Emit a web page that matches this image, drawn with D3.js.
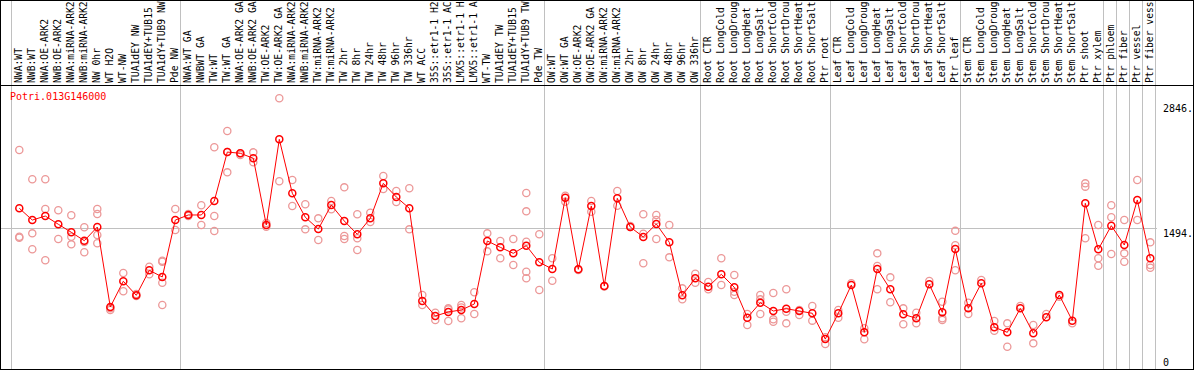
<!DOCTYPE html>
<html>
<head>
<meta charset="utf-8">
<script src="https://cdn.jsdelivr.net/npm/d3@7"></script>
<style>
  body { margin: 0; background: #fff; }
  svg { display: block; font-family: "DejaVu Sans Mono", monospace; }
</style>
</head>
<body>
<div id="vis"></div>
<script>
// frame
const FRAME_WIDTH = 1194;
const FRAME_HEIGHT = 370;
const HEADER = 85;

const GENE = "Potri.013G146000";

// sample names as shown in the column header (long ones are cut like the original)
const samples = [
  "NWA:WT", "NWB:WT", "NWA:OE-ARK2", "NWB:OE-ARK2", "NWA:miRNA-ARK2", "NWB:miRNA-ARK2",
  "NW 0hr", "WT H2O", "WT-NW", "TUA1dEY NW", "TUA1dEY+TUB15", "TUA1dY+TUB9 NW", "Pde NW",
  "NWA:WT GA", "NWBWT GA", "TW:WT", "TW:WT GA", "NWA:OE-ARK2 GA", "NWB:OE-ARK2 GA",
  "TW:OE-ARK2", "TW:OE-ARK2 GA", "NWA:miRNA-ARK2", "NWB:miRNA-ARK2", "TW:miRNA-ARK2",
  "TW:miRNA-ARK2", "TW 2hr", "TW 8hr", "TW 24hr", "TW 48hr", "TW 96hr", "TW 336hr",
  "WT ACC", "35S::etr1-1 H2", "35S::etr1-1 AC", "LMX5::etr1-1 H", "LMX5::etr1-1 A",
  "WT-TW", "TUA1dEY TW", "TUA1dEY+TUB15", "TUA1dY+TUB9 TW", "Pde TW",
  "OW:WT", "OW:WT GA", "OW:OE-ARK2", "OW:OE-ARK2 GA", "OW:miRNA-ARK2", "OW:miRNA-ARK2",
  "OW 2hr", "OW 8hr", "OW 24hr", "OW 48hr", "OW 96hr", "OW 336hr",
  "Root CTR", "Root LongCold", "Root LongDroug", "Root LongHeat", "Root LongSalt",
  "Root ShortCold", "Root ShortDrou", "Root ShortHeat", "Root ShortSalt", "Ptr root",
  "Leaf CTR", "Leaf LongCold", "Leaf LongDroug", "Leaf LongHeat", "Leaf LongSalt",
  "Leaf ShortCold", "Leaf ShortDrou", "Leaf ShortHeat", "Leaf ShortSalt", "Ptr leaf",
  "Stem CTR", "Stem LongCold", "Stem LongDroug", "Stem LongHeat", "Stem LongSalt",
  "Stem ShortCold", "Stem ShortDrou", "Stem ShortHeat", "Stem ShortSalt", "Ptr shoot",
  "Ptr xylem", "Ptr phloem", "Ptr fiber", "Ptr vessel", "Ptr fiber vess"
];

// mean expression per sample
const means = [
  1696, 1573, 1615, 1529, 1445, 1357, 1500, 664, 933, 786, 1048, 978, 1573,
  1626, 1626, 1772, 2284, 2271, 2219, 1521, 2417, 1853, 1602, 1479, 1730,
  1563, 1424, 1591, 1957, 1814, 1696, 727, 570, 612, 633, 695, 1354, 1288,
  1225, 1305, 1131, 1061, 1807, 1058, 1720, 883, 1800, 1500, 1396, 1532,
  1340, 786, 964, 876, 1006, 870, 552, 709, 622, 646, 622, 598, 329,
  598, 894, 399, 1061, 849, 588, 546, 901, 608, 1270, 650, 912, 452,
  399, 650, 389, 556, 789, 521, 1748, 1267, 1514, 1312, 1783, 1173
];

// replicate values per sample
const replicates = [
  [2305, 1399, 1388], [1999, 1434, 1267], [1999, 1688, 1152], [1675, 1375],
  [1623, 1399, 1319], [1497, 1236, 1343], [1688, 1636, 1417, 1330], [650, 633],
  [1019, 828], [800, 779], [1085, 1006], [1148, 1137, 918, 685], [1688, 1469],
  [1636, 1616], [1727, 1521], [2334, 1615, 1458], [2504, 2284, 2072], [2271, 2253],
  [2281, 2177], [1503, 1542], [2846, 1978], [1992, 1720], [1738, 1476], [1591, 1364],
  [1772, 1685], [1915, 1406, 1375], [1633, 1382, 1260], [1650, 1553], [2033, 1898],
  [1877, 1762], [1905, 1476], [789, 685], [604, 528], [650, 518, 638], [685, 546, 660],
  [818, 591], [1434, 1246], [1354, 1173], [1375, 1103], [1856, 1664, 1347, 1033, 964],
  [1424, 842], [1173, 939], [1828, 1765], [1058, 1050], [1772, 1660], [883, 878],
  [1877, 1723], [1500, 1511], [1633, 1430, 1121], [1626, 1573, 1375], [1521, 1183],
  [859, 744], [1012, 918], [925, 849], [1173, 894], [998, 824, 789], [591, 475],
  [789, 744, 591], [810, 535, 510], [849, 615, 493], [633, 580], [674, 521], [347, 277],
  [633, 552], [912], [441, 326], [1225, 1093, 849], [974, 713], [650, 483], [604, 493],
  [936], [719, 546, 528], [1460, 1309, 1048], [709, 591], [946], [518, 416], [493, 249],
  [674], [476, 284], [591], [772], [493], [1957, 1922, 1382], [1521, 1173, 1096],
  [1727, 1602, 1218], [1573, 1225, 1137], [1992, 1573], [1340, 1103, 1075]
];

// y labels
const yTicks = [0, 1494, 2846];
const yTickLabels = ["0", "1494.", "2846."];

// columns after which a separator is drawn
const groupBreaks = [0, 13, 41, 53, 63, 73, 84, 85, 86, 87, 88];

const SVG = d3.select("#vis")
  .append("svg")
    .attr("width", FRAME_WIDTH)
    .attr("height", FRAME_HEIGHT);

// scales
const X_SCALE = d3.scaleBand()
  .domain(d3.range(samples.length))
  .range([11, 1155]);

const Y_SCALE = d3.scaleLinear()
  .domain([0, 2846])
  .range([370.5, 98.3]);

const px = (i) => X_SCALE(i) + 8.3;

// group separators
SVG.selectAll(".sep")
  .data(groupBreaks)
  .enter()
  .append("line")
    .attr("x1", (d) => Math.round(X_SCALE(0) + d * X_SCALE.bandwidth()) + 0.5)
    .attr("x2", (d) => Math.round(X_SCALE(0) + d * X_SCALE.bandwidth()) + 0.5)
    .attr("y1", 0)
    .attr("y2", FRAME_HEIGHT)
    .attr("stroke", "#c0c0c0")
    .attr("stroke-width", 1);

// horizontal grid line at middle tick
SVG.append("line")
  .attr("x1", 0)
  .attr("x2", 1157)
  .attr("y1", Math.round(Y_SCALE(yTicks[1])) + 0.5)
  .attr("y2", Math.round(Y_SCALE(yTicks[1])) + 0.5)
  .attr("stroke", "#c0c0c0");

// frame
SVG.append("rect")
  .attr("x", 0.5).attr("y", 0.5)
  .attr("width", FRAME_WIDTH - 1).attr("height", FRAME_HEIGHT - 1)
  .attr("fill", "none").attr("stroke", "#000");

SVG.append("line")
  .attr("x1", 0).attr("x2", FRAME_WIDTH)
  .attr("y1", HEADER + 0.5).attr("y2", HEADER + 0.5)
  .attr("stroke", "#000");

// column labels, rotated
SVG.selectAll(".lab")
  .data(samples)
  .enter()
  .append("text")
    .attr("transform", (d, i) => "translate(" + (X_SCALE(i) + 10.8) + "," + (HEADER - 2) + ") rotate(-90)")
    .attr("font-size", "9.7px")
    .attr("fill", "#000")
    .text((d) => d);

// y labels
SVG.selectAll(".ylab")
  .data(yTicks)
  .enter()
  .append("text")
    .attr("x", 1163)
    .attr("y", (d, i) => {
      if (d === 0) return Y_SCALE(d) - 5;
      if (i === yTicks.length - 1) return Y_SCALE(d) + 13.5;
      return Y_SCALE(d) + 9.5;
    })
    .attr("font-size", "10px")
    .attr("fill", "#000")
    .text((d, i) => yTickLabels[i]);

// gene name
SVG.append("text")
  .attr("x", 10)
  .attr("y", 100)
  .attr("font-size", "10px")
  .attr("fill", "#ff0000")
  .text(GENE);

// replicate points
const repPoints = [];
replicates.forEach((arr, i) => arr.forEach((v) => repPoints.push({i: i, v: v})));

SVG.selectAll(".rep")
  .data(repPoints)
  .enter()
  .append("circle")
    .attr("cx", (d) => px(d.i))
    .attr("cy", (d) => Y_SCALE(d.v))
    .attr("r", 3.6)
    .attr("fill", "none")
    .attr("stroke", "#ec9898")
    .attr("stroke-width", 1.3);

// mean line
const LINE = d3.line()
  .x((d, i) => px(i))
  .y((d) => Y_SCALE(d));

SVG.append("path")
  .datum(means)
  .attr("d", LINE)
  .attr("fill", "none")
  .attr("stroke", "#ff0000")
  .attr("stroke-width", 1);

// mean points
SVG.selectAll(".mean")
  .data(means)
  .enter()
  .append("circle")
    .attr("cx", (d, i) => px(i))
    .attr("cy", (d) => Y_SCALE(d))
    .attr("r", 3.5)
    .attr("fill", "none")
    .attr("stroke", "#ff0000")
    .attr("stroke-width", 1.5);
</script>
</body>
</html>
